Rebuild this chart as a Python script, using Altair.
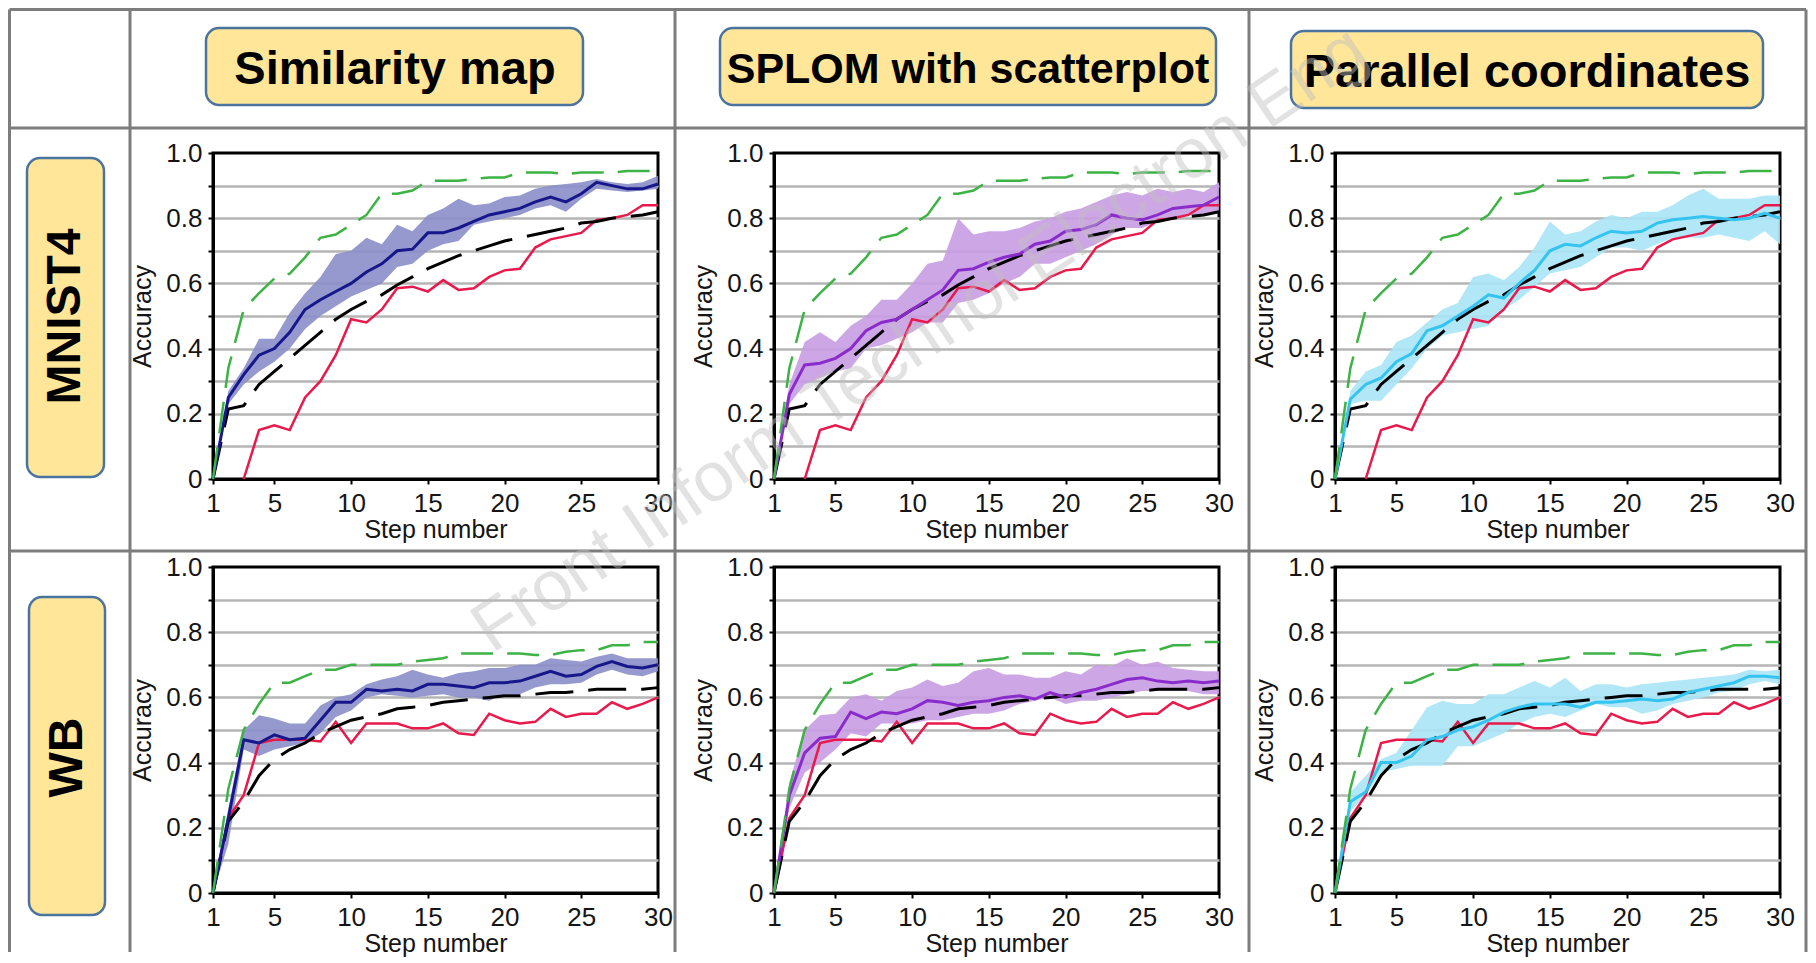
import altair as alt
import pandas as pd

FONT = "Liberation Sans"
TXT = "#151515"

# ---------------- data ----------------
steps = list(range(1, 31))
datasets = ["MNIST4", "WB"]
methods = ["Similarity map", "SPLOM with scatterplot", "Parallel coordinates"]
watermark = "Front Inform Technol Electron Eng"

# baseline curves (same in every column of a row)
mnist_green = [0, 0.34, 0.52, 0.57, 0.615, 0.63, 0.68, 0.74, 0.75, 0.78, 0.81, 0.875, 0.875, 0.885, 0.915,
               0.915, 0.915, 0.92, 0.925, 0.925, 0.94, 0.94, 0.94, 0.935, 0.94, 0.94, 0.94, 0.945, 0.945, 0.945]
mnist_black = [0, 0.215, 0.225, 0.29, 0.33, 0.37, 0.41, 0.45, 0.49, 0.52, 0.545, 0.565, 0.595, 0.62, 0.645,
               0.665, 0.685, 0.70, 0.715, 0.73, 0.74, 0.75, 0.76, 0.77, 0.785, 0.79, 0.80, 0.805, 0.81, 0.82]
mnist_red = [None, None, 0, 0.15, 0.165, 0.15, 0.25, 0.30, 0.38, 0.49, 0.48, 0.52, 0.585, 0.59, 0.575,
             0.61, 0.58, 0.585, 0.62, 0.64, 0.645, 0.71, 0.735, 0.745, 0.755, 0.795, 0.80, 0.81, 0.84, 0.84]
wb_green = [0, 0.32, 0.50, 0.58, 0.645, 0.645, 0.665, 0.685, 0.685, 0.70, 0.70, 0.70, 0.70, 0.71, 0.715,
            0.72, 0.735, 0.735, 0.735, 0.735, 0.735, 0.73, 0.73, 0.74, 0.745, 0.745, 0.76, 0.76, 0.77, 0.77]
wb_black = [0, 0.22, 0.28, 0.36, 0.41, 0.44, 0.46, 0.49, 0.51, 0.53, 0.54, 0.55, 0.565, 0.57, 0.575,
            0.585, 0.59, 0.595, 0.60, 0.605, 0.605, 0.61, 0.615, 0.615, 0.62, 0.625, 0.625, 0.625, 0.625, 0.63]
wb_red = [0, 0.23, 0.30, 0.46, 0.47, 0.47, 0.47, 0.465, 0.525, 0.46, 0.52, 0.52, 0.52, 0.505, 0.505,
          0.52, 0.49, 0.485, 0.55, 0.53, 0.52, 0.525, 0.565, 0.54, 0.55, 0.55, 0.585, 0.565, 0.58, 0.60]

# method curves: mean, lower and upper band
sim_mnist_mean = [0, 0.25, 0.32, 0.38, 0.40, 0.45, 0.52, 0.55, 0.575, 0.60, 0.635, 0.66, 0.70, 0.705, 0.755,
                  0.755, 0.77, 0.79, 0.81, 0.82, 0.83, 0.85, 0.865, 0.85, 0.875, 0.91, 0.90, 0.89, 0.89, 0.905]
sim_mnist_hi = [0, 0.27, 0.34, 0.43, 0.43, 0.51, 0.57, 0.62, 0.69, 0.70, 0.74, 0.72, 0.78, 0.76, 0.81,
                0.83, 0.86, 0.84, 0.845, 0.865, 0.87, 0.89, 0.90, 0.905, 0.91, 0.92, 0.91, 0.905, 0.91, 0.93]
sim_mnist_lo = [0, 0.23, 0.29, 0.33, 0.36, 0.40, 0.46, 0.50, 0.53, 0.56, 0.58, 0.60, 0.65, 0.66, 0.70,
                0.72, 0.73, 0.78, 0.79, 0.80, 0.81, 0.83, 0.84, 0.82, 0.86, 0.89, 0.885, 0.88, 0.885, 0.89]

splom_mnist_mean = [0, 0.26, 0.35, 0.355, 0.37, 0.40, 0.455, 0.48, 0.49, 0.52, 0.55, 0.58, 0.64, 0.645, 0.665,
                    0.68, 0.69, 0.72, 0.73, 0.76, 0.765, 0.78, 0.81, 0.80, 0.795, 0.81, 0.83, 0.835, 0.84, 0.865]
splom_mnist_hi = [0, 0.29, 0.42, 0.45, 0.42, 0.47, 0.50, 0.55, 0.55, 0.60, 0.66, 0.67, 0.80, 0.75, 0.76,
                  0.76, 0.77, 0.79, 0.80, 0.82, 0.83, 0.85, 0.87, 0.88, 0.87, 0.89, 0.88, 0.89, 0.88, 0.91]
splom_mnist_lo = [0, 0.23, 0.29, 0.31, 0.33, 0.34, 0.40, 0.41, 0.43, 0.45, 0.48, 0.48, 0.54, 0.55, 0.57,
                  0.60, 0.62, 0.66, 0.66, 0.68, 0.70, 0.72, 0.75, 0.77, 0.77, 0.79, 0.80, 0.81, 0.81, 0.82]

par_mnist_mean = [0, 0.245, 0.29, 0.31, 0.36, 0.385, 0.455, 0.47, 0.50, 0.53, 0.565, 0.555, 0.60, 0.64, 0.70,
                  0.72, 0.715, 0.74, 0.76, 0.755, 0.76, 0.785, 0.795, 0.80, 0.805, 0.80, 0.795, 0.80, 0.815, 0.80]
par_mnist_hi = [0, 0.27, 0.33, 0.35, 0.42, 0.44, 0.48, 0.52, 0.54, 0.62, 0.63, 0.61, 0.65, 0.71, 0.79,
                0.75, 0.76, 0.79, 0.81, 0.80, 0.82, 0.82, 0.84, 0.87, 0.89, 0.86, 0.86, 0.86, 0.87, 0.87]
par_mnist_lo = [0, 0.23, 0.24, 0.24, 0.29, 0.34, 0.40, 0.44, 0.45, 0.46, 0.47, 0.52, 0.55, 0.59, 0.63,
                0.64, 0.65, 0.68, 0.71, 0.71, 0.70, 0.72, 0.74, 0.74, 0.74, 0.75, 0.74, 0.73, 0.76, 0.72]

sim_wb_mean = [0, 0.23, 0.47, 0.46, 0.485, 0.47, 0.475, 0.53, 0.585, 0.585, 0.625, 0.62, 0.625, 0.62, 0.64,
               0.64, 0.635, 0.63, 0.645, 0.645, 0.65, 0.665, 0.68, 0.665, 0.67, 0.695, 0.71, 0.695, 0.69, 0.70]
sim_wb_hi = [0, 0.26, 0.50, 0.545, 0.535, 0.52, 0.52, 0.575, 0.60, 0.61, 0.64, 0.655, 0.665, 0.685, 0.67,
             0.66, 0.675, 0.68, 0.69, 0.69, 0.70, 0.70, 0.72, 0.715, 0.71, 0.725, 0.735, 0.72, 0.72, 0.72]
sim_wb_lo = [0, 0.15, 0.44, 0.42, 0.44, 0.45, 0.46, 0.49, 0.54, 0.56, 0.60, 0.61, 0.605, 0.60, 0.605,
             0.61, 0.60, 0.60, 0.59, 0.61, 0.61, 0.63, 0.64, 0.64, 0.645, 0.67, 0.685, 0.67, 0.665, 0.68]

splom_wb_mean = [0, 0.30, 0.43, 0.475, 0.48, 0.555, 0.535, 0.555, 0.55, 0.565, 0.59, 0.585, 0.575, 0.585, 0.59,
                 0.60, 0.605, 0.595, 0.615, 0.60, 0.615, 0.625, 0.64, 0.655, 0.66, 0.65, 0.645, 0.65, 0.645, 0.65]
splom_wb_hi = [0, 0.34, 0.50, 0.545, 0.55, 0.60, 0.61, 0.59, 0.62, 0.63, 0.655, 0.635, 0.645, 0.68, 0.69,
               0.67, 0.67, 0.66, 0.66, 0.68, 0.67, 0.70, 0.695, 0.72, 0.70, 0.71, 0.69, 0.685, 0.68, 0.68]
splom_wb_lo = [0, 0.26, 0.37, 0.40, 0.44, 0.49, 0.48, 0.52, 0.52, 0.52, 0.53, 0.53, 0.54, 0.55, 0.55,
               0.56, 0.58, 0.59, 0.60, 0.58, 0.59, 0.59, 0.60, 0.61, 0.62, 0.62, 0.62, 0.62, 0.61, 0.61]

par_wb_mean = [0, 0.28, 0.31, 0.40, 0.40, 0.42, 0.47, 0.48, 0.50, 0.51, 0.53, 0.555, 0.57, 0.58, 0.58,
               0.58, 0.57, 0.585, 0.585, 0.59, 0.595, 0.59, 0.595, 0.615, 0.625, 0.635, 0.645, 0.665, 0.665, 0.66]
par_wb_hi = [0, 0.31, 0.36, 0.41, 0.43, 0.50, 0.57, 0.59, 0.58, 0.58, 0.61, 0.61, 0.63, 0.65, 0.63,
             0.66, 0.62, 0.64, 0.64, 0.63, 0.64, 0.645, 0.65, 0.655, 0.66, 0.665, 0.67, 0.685, 0.68, 0.685]
par_wb_lo = [0, 0.25, 0.30, 0.37, 0.38, 0.39, 0.39, 0.39, 0.45, 0.45, 0.47, 0.49, 0.52, 0.54, 0.55,
             0.54, 0.56, 0.58, 0.57, 0.57, 0.55, 0.56, 0.58, 0.59, 0.60, 0.615, 0.62, 0.64, 0.65, 0.64]

x_ticks = [1, 5, 10, 15, 20, 25, 30]
y_ticks = [0, 0.1, 0.2, 0.3, 0.4, 0.5, 0.6, 0.7, 0.8, 0.9, 1.0]

# ---------------- styles / layout ----------------
GREEN, RED = "#3db346", "#e8194b"
METHOD_LINE = ["#17178b", "#8a2ccc", "#35c3ef"]
METHOD_BAND = ["#8a8ec8", "#c89de2", "#a9e4f6"]
YELLOW, BOXLINE = "#ffe699", "#4a74a0"
TABLE = "#7d7d7d"

PW, PH = 445, 326          # plot area of each panel
LABEL_W, HEADER_H = 89, 57  # first column width / header row height
COL_GAP, ROW_GAP = 116, 88

# table rules in px, relative to the top-left cell
TABLE_LINES = [
    (1.5, 1798, 1.5, 1.5), (1.5, 1798, 120, 120), (1.5, 1798, 543, 543),
    (1.5, 1.5, 1.5, 944), (122, 122, 1.5, 944), (667, 667, 1.5, 944),
    (1241, 1241, 1.5, 944), (1798, 1798, 1.5, 944),
]
# header boxes: x, x2, y, y2, text x, text y, font size
HEADER_BOX = [(-7, 370, 20, 97, 182, 61.5, 47),
              (-54, 442, 20, 97, 194, 61.5, 43),
              (-44, 428, 23, 100, 192, 64.5, 47)]
# row label boxes: x, x2, y, y2, text x, text y
ROW_BOX = [(19, 96, 5, 324, 57.5, 163.5), (21, 97, 30, 348, 59.5, 190.5)]
WATERMARK_POS = (-415, -227, 326, 70)

baselines = {
    "MNIST4": (mnist_green, mnist_black, mnist_red),
    "WB": (wb_green, wb_black, wb_red),
}
method_data = {
    ("MNIST4", 0): (sim_mnist_mean, sim_mnist_lo, sim_mnist_hi),
    ("MNIST4", 1): (splom_mnist_mean, splom_mnist_lo, splom_mnist_hi),
    ("MNIST4", 2): (par_mnist_mean, par_mnist_lo, par_mnist_hi),
    ("WB", 0): (sim_wb_mean, sim_wb_lo, sim_wb_hi),
    ("WB", 1): (splom_wb_mean, splom_wb_lo, splom_wb_hi),
    ("WB", 2): (par_wb_mean, par_wb_lo, par_wb_hi),
}

x_scale = alt.Scale(domain=[1, 30], nice=False, zero=False)
y_scale = alt.Scale(domain=[0, 1], nice=False)

x_axis = alt.Axis(values=x_ticks, grid=False, tickSize=5, tickWidth=2, tickColor="black",
                  domainColor="black", domainWidth=3, labelFlush=False, labelOverlap=False,
                  labelFont=FONT, labelFontSize=26, labelColor=TXT, labelPadding=6,
                  titleFont=FONT, titleFontSize=25, titleFontWeight="normal", titleColor=TXT,
                  titlePadding=1)
y_axis = alt.Axis(values=y_ticks, grid=True,
                  gridColor={"condition": {"test": "datum.value <= 0.001 || datum.value >= 0.999",
                                           "value": "transparent"}, "value": "#b5b5b5"},
                  gridWidth=2.5, tickSize=5, tickWidth=2, tickColor="black",
                  domainColor="black", domainWidth=3, labelOverlap=False, labelFlush=False,
                  labelExpr="round(datum.value*10) % 2 == 0 ? (datum.value == 0 ? '0' : format(datum.value, '.1f')) : ''",
                  labelFont=FONT, labelFontSize=26, labelColor=TXT, labelPadding=6,
                  titleFont=FONT, titleFontSize=25, titleFontWeight="normal", titleColor=TXT,
                  titlePadding=10)


def panel(ds, mi, last=False):
    g, b, r = baselines[ds]
    mean, lo, hi = method_data[(ds, mi)]
    rows = []
    for name, vals in (("green", g), ("black", b), ("red", r), ("mean", mean)):
        for s, v in zip(steps, vals):
            if v is not None:
                rows.append({"step": s, "series": name, "acc": v})
    long_df = pd.DataFrame(rows)
    band_df = pd.DataFrame({"step": steps, "lo": lo, "hi": hi})

    X = alt.X("step:Q", scale=x_scale, axis=x_axis, title="Step number")

    band = alt.Chart(band_df).mark_area(color=METHOD_BAND[mi], opacity=0.9).encode(
        x=X, y=alt.Y("lo:Q", scale=y_scale, axis=y_axis, title="Accuracy"), y2="hi:Q")

    def line(series, **kw):
        return alt.Chart(long_df).transform_filter(alt.datum.series == series).mark_line(**kw).encode(
            x=X, y=alt.Y("acc:Q", scale=y_scale, axis=y_axis, title="Accuracy"))

    layers = [
        band,
        line("red", color=RED, strokeWidth=2.5),
        line("black", color="black", strokeWidth=3, strokeDash=[38, 15]),
        line("mean", color=METHOD_LINE[mi], strokeWidth=3),
        line("green", color=GREEN, strokeWidth=2.5, strokeDash=[32, 14]),
    ]
    if last:
        wx, wy, wa, wfs = WATERMARK_POS
        layers.append(
            alt.Chart(pd.DataFrame({"t": [watermark]})).mark_text(
                font=FONT, fontSize=wfs, color="#c0c0c0", opacity=0.45, angle=wa,
                align="center", baseline="middle").encode(
                x=alt.value(wx), y=alt.value(wy), text="t:N"))
    return alt.layer(*layers).properties(
        width=PW, height=PH, view=alt.ViewBackground(stroke="black", strokeWidth=3))


def table_cell():
    df = pd.DataFrame(TABLE_LINES, columns=["x", "x2", "y", "y2"])
    return alt.Chart(df).mark_rule(color=TABLE, strokeWidth=3).encode(
        x=alt.X("x:Q", scale=None, axis=None), x2="x2:Q",
        y=alt.Y("y:Q", scale=None, axis=None), y2="y2:Q",
    ).properties(width=LABEL_W, height=HEADER_H)


def header_cell(i):
    x1, x2, y1, y2, tx, ty, fs = HEADER_BOX[i]
    df = pd.DataFrame({"label": [methods[i]]})
    box = alt.Chart(df).mark_rect(fill=YELLOW, stroke=BOXLINE, strokeWidth=2.5, cornerRadius=13).encode(
        x=alt.value(x1), x2=alt.value(x2), y=alt.value(y1), y2=alt.value(y2))
    txt = alt.Chart(df).mark_text(font=FONT, fontSize=fs, fontWeight="bold", color="black",
                                  align="center", baseline="middle").encode(
        x=alt.value(tx), y=alt.value(ty), text="label:N")
    return alt.layer(box, txt).properties(width=PW, height=HEADER_H)


def row_cell(i):
    x1, x2, y1, y2, tx, ty = ROW_BOX[i]
    df = pd.DataFrame({"label": [datasets[i]]})
    box = alt.Chart(df).mark_rect(fill=YELLOW, stroke=BOXLINE, strokeWidth=2.5, cornerRadius=13).encode(
        x=alt.value(x1), x2=alt.value(x2), y=alt.value(y1), y2=alt.value(y2))
    txt = alt.Chart(df).mark_text(font=FONT, fontSize=48, fontWeight="bold", color="black",
                                  align="center", baseline="middle", angle=270).encode(
        x=alt.value(tx), y=alt.value(ty), text="label:N")
    return alt.layer(box, txt).properties(width=LABEL_W, height=PH)


cells = [table_cell(), header_cell(0), header_cell(1), header_cell(2)]
for di, ds in enumerate(datasets):
    cells.append(row_cell(di))
    for mi in range(3):
        cells.append(panel(ds, mi, last=(di == 1 and mi == 2)))

chart = alt.concat(
    *cells, columns=4, spacing={"row": ROW_GAP, "column": COL_GAP},
    bounds="flush", align="each",
).properties(padding=0).configure_view(strokeWidth=0)

chart.save("out.html", embed_options={"renderer": "svg", "actions": False})
